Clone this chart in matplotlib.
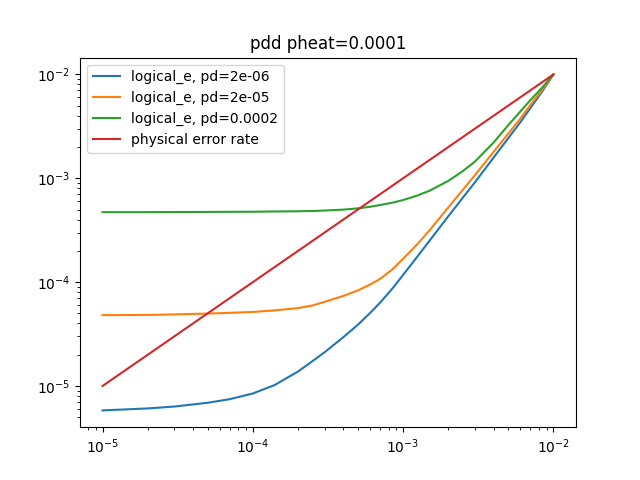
import matplotlib
matplotlib.use("Agg")
import matplotlib.pyplot as plt

# physical error rate values (x axis)
p = [1e-5, 2e-5, 3e-5, 5e-5, 7e-5, 1e-4, 1.4e-4, 2e-4, 2.5e-4, 3e-4,
     4e-4, 5e-4, 6e-4, 7e-4, 8.5e-4, 1e-3, 1.25e-3, 1.5e-3, 2e-3, 2.5e-3,
     3e-3, 4e-3, 5e-3, 6e-3, 7e-3, 8.5e-3, 1e-2]

logical_pd_2e6 = [5.82e-6, 6.08e-6, 6.34e-6, 6.89e-6, 7.46e-6, 8.47e-6, 1.023e-5,
                  1.38e-5, 1.74e-5, 2.11e-5, 2.95e-5, 3.89e-5, 5.01e-5, 6.31e-5,
                  8.71e-5, 1.175e-4, 1.78e-4, 2.51e-4, 4.32e-4, 6.53e-4,
                  9.12e-4, 1.585e-3, 2.43e-3, 3.44e-3, 4.70e-3, 7.0e-3, 1e-2]
logical_pd_2e5 = [4.81e-5, 4.83e-5, 4.89e-5, 4.98e-5, 5.06e-5, 5.16e-5, 5.35e-5,
                  5.62e-5, 5.96e-5, 6.46e-5, 7.36e-5, 8.32e-5, 9.44e-5, 1.07e-4,
                  1.33e-4, 1.68e-4, 2.34e-4, 3.16e-4, 5.25e-4, 7.76e-4,
                  1.07e-3, 1.80e-3, 2.69e-3, 3.73e-3, 5.05e-3, 7.24e-3, 1e-2]
logical_pd_2e4 = [4.72e-4, 4.72e-4, 4.73e-4, 4.74e-4, 4.75e-4, 4.76e-4, 4.79e-4,
                  4.81e-4, 4.84e-4, 4.89e-4, 4.99e-4, 5.13e-4, 5.31e-4, 5.52e-4,
                  5.82e-4, 6.17e-4, 6.84e-4, 7.59e-4, 9.44e-4, 1.175e-3,
                  1.445e-3, 2.21e-3, 3.24e-3, 4.37e-3, 5.62e-3, 7.59e-3, 1e-2]

labels = ["logical_e, pd=2e-06", "logical_e, pd=2e-05", "logical_e, pd=0.0002"]

fig, ax = plt.subplots(figsize=(6.4, 4.8), dpi=100)
for ys, lab in zip([logical_pd_2e6, logical_pd_2e5, logical_pd_2e4], labels):
    ax.plot(p, ys, label=lab)
ax.plot(p, p, label="physical error rate")

ax.set_xscale("log")
ax.set_yscale("log")
ax.set_title("pdd pheat=0.0001")
ax.legend(loc="upper left")

fig.savefig("out.png")
